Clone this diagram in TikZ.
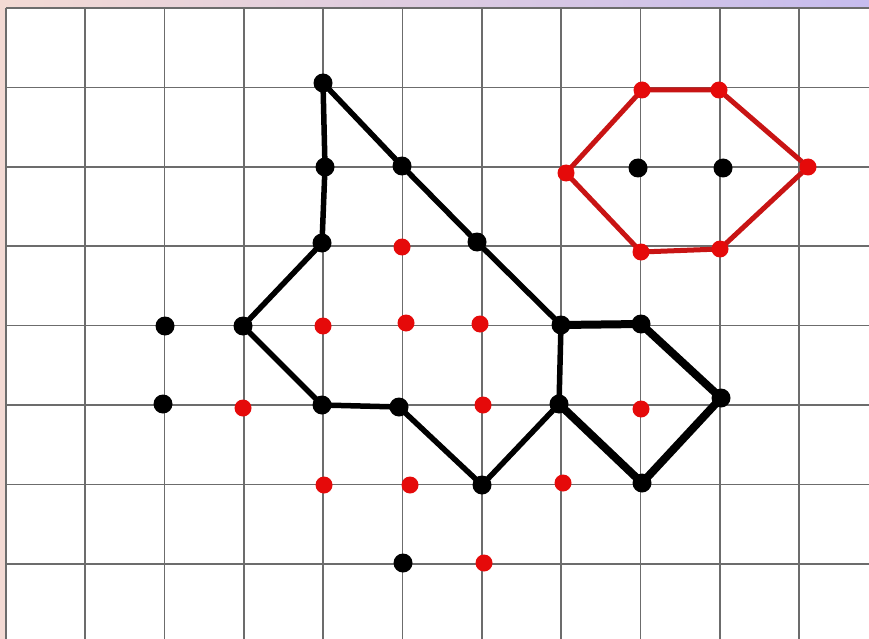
\documentclass[tikz,border=0pt]{standalone}
\begin{document}
\begin{tikzpicture}[x=1pt,y=-1pt,
  bdot/.style={circle,fill=black,inner sep=0pt,minimum size=19pt},
  rdot/.style={circle,fill=dotred,inner sep=0pt,minimum size=17pt},
  gridline/.style={draw=gray!85!black,line width=1.7pt},
  edge/.style={draw=black,line width=5.5pt,line join=round,line cap=round},
  thickedge/.style={draw=black,line width=8pt,line join=round,line cap=round},
  redge/.style={draw=hexred,line width=5pt,line join=round,line cap=round}]
\definecolor{dotred}{HTML}{E50A0A}
\definecolor{hexred}{HTML}{C81414}
\definecolor{bandL}{HTML}{F3DAD4}
\definecolor{bandM}{HTML}{E6E2E8}
\definecolor{bandR}{HTML}{C6BCEE}
\useasboundingbox (0,0) rectangle (869,639);
\fill[white] (0,0) rectangle (869,639);
\shade[left color=bandL,middle color=bandM,right color=bandR] (0,0) rectangle (869,8);
\fill[bandL] (0,0) rectangle (6,639);
% grid
\foreach \i in {0,...,10} \draw[gridline] ({6+79.3*\i},8) -- ({6+79.3*\i},639);
\foreach \j in {0,...,7} \draw[gridline] (6,{8+79.4*\j}) -- (869,{8+79.4*\j});
% edges (drawn first, between node centres)
\path (323,83) coordinate (a1) (325,167) coordinate (a2) (322,243) coordinate (a3)
      (243,326) coordinate (a4) (322,405) coordinate (a5) (399,407) coordinate (a6)
      (482,485) coordinate (a7) (559,404) coordinate (a8) (561,325) coordinate (a9)
      (477,242) coordinate (a10) (402,166) coordinate (a11)
      (641,324) coordinate (p1) (721,398) coordinate (p2) (642,483) coordinate (p3)
      (642,90) coordinate (h1) (719,90) coordinate (h2) (808,167) coordinate (h3)
      (720,249) coordinate (h4) (641,252) coordinate (h5) (566,173) coordinate (h6);
\draw[edge] (a1) -- (a2) -- (a3) -- (a4) -- (a5) -- (a6) -- (a7) -- (a8) -- (a9) -- (a10) -- (a11) -- cycle;
\draw[thickedge] (a9) -- (p1) -- (p2) -- (p3) -- (a8);
\draw[redge] (h1) -- (h2) -- (h3) -- (h4) -- (h5) -- (h6) -- cycle;
% black polygon vertices
\foreach \n in {a1,a2,a3,a4,a5,a6,a7,a8,a9,a10,a11,p1,p2,p3}
  \node[bdot] (n\n) at (\n) {};
% isolated black dots
\node[bdot] (b1) at (165,326) {};
\node[bdot] (b2) at (163,404) {};
\node[bdot] (b3) at (403,563) {};
\node[bdot] (b4) at (638,168) {};
\node[bdot] (b5) at (723,168) {};
% red dots
\node[rdot] (r1) at (402,247) {};
\node[rdot] (r2) at (323,326) {};
\node[rdot] (r3) at (406,323) {};
\node[rdot] (r4) at (480,324) {};
\node[rdot] (r5) at (243,408) {};
\node[rdot] (r6) at (483,405) {};
\node[rdot] (r7) at (641,409) {};
\node[rdot] (r8) at (324,485) {};
\node[rdot] (r9) at (410,485) {};
\node[rdot] (r10) at (563,483) {};
\node[rdot] (r11) at (484,563) {};
% red hexagon vertices
\foreach \n in {h1,h2,h3,h4,h5,h6}
  \node[rdot] (n\n) at (\n) {};
\end{tikzpicture}
\end{document}
